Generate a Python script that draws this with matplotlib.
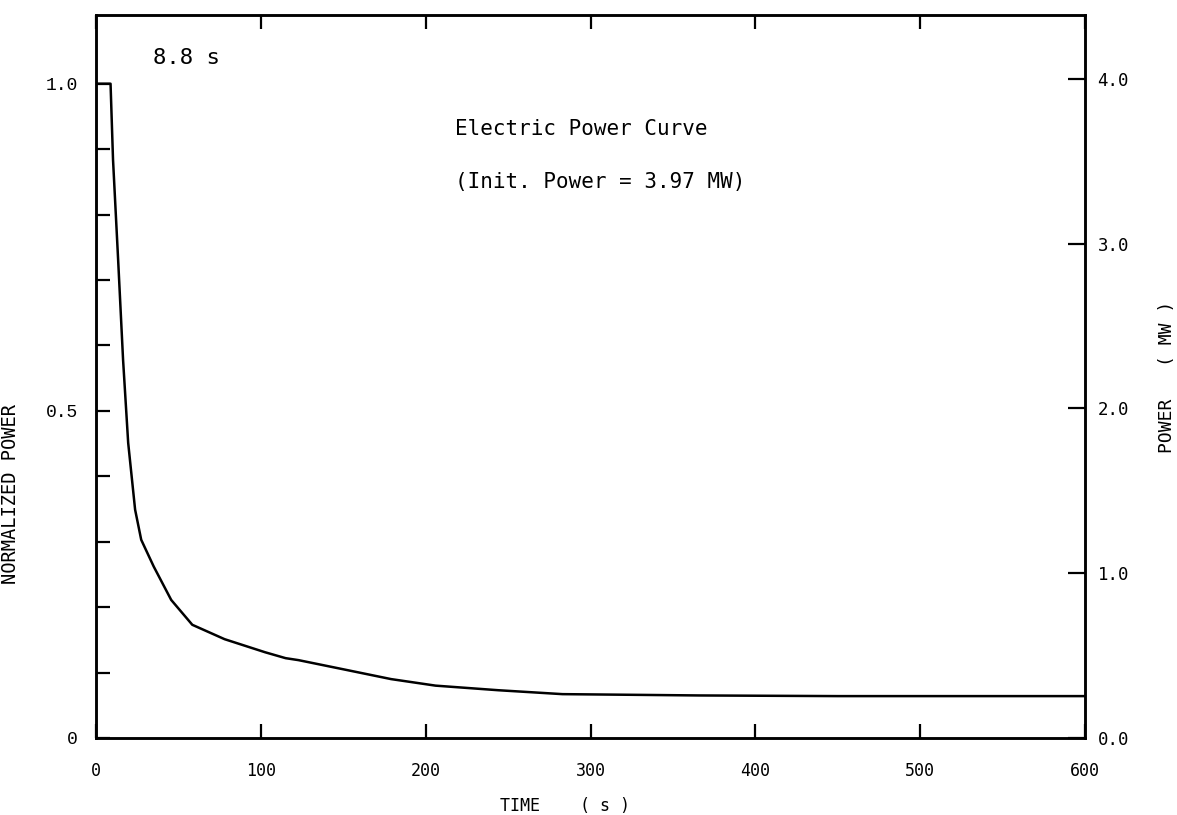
#!/usr/bin/env python3
"""Electric power curve after trip: normalized power vs time, with MW on a twin axis."""

import matplotlib
matplotlib.use("Agg")
import matplotlib.pyplot as plt
import numpy as np

# ── Data ─────────────────────────────────────────────────────────────────────
time_s = [0.0, 8.8, 10.3, 13.4, 16.4, 19.5, 23.7, 27.4, 29.8, 35.0, 45.6,
          58.4, 78.0, 102.6, 115.0, 122.8, 150.0, 179.0, 206.0, 244.0,
          283.0, 325.0, 366.0, 450.0, 600.0]
norm_power = [1.0, 1.0, 0.884, 0.731, 0.578, 0.451, 0.349, 0.303, 0.290,
              0.262, 0.211, 0.173, 0.151, 0.131, 0.122, 0.119, 0.105,
              0.090, 0.080, 0.073, 0.067, 0.066, 0.065, 0.064, 0.064]
init_power_mw = 3.97

x_ticks = [0, 100, 200, 300, 400, 500, 600]
left_ticks = np.round(np.arange(0, 1.01, 0.1), 1)
left_labels = {0.0: "0", 0.5: "0.5", 1.0: "1.0"}
right_ticks = [0.0, 1.0, 2.0, 3.0, 4.0]

# ── Style ────────────────────────────────────────────────────────────────────
plt.rcParams.update({
    "font.family": "DejaVu Sans Mono",
    "font.size": 12,
    "axes.linewidth": 1.8,
})

fig = plt.figure(figsize=(11.77, 8.15), dpi=100)
ax = fig.add_axes([0.0816, 0.0945, 0.8402, 0.8871])

ax.plot(time_s, norm_power, color="black", linewidth=1.8)
ax.set_xlim(0, 600)
ax.set_ylim(0, 1.105)

ax.set_xticks(x_ticks)
ax.set_xticklabels([str(t) for t in x_ticks], fontsize=12)
ax.set_yticks(left_ticks)
ax.set_yticklabels([left_labels.get(float(v), "") for v in left_ticks],
                   fontsize=13, family="Liberation Mono")
ax.tick_params(axis="x", direction="in", length=10, width=1.6, pad=17,
               top=True)
ax.tick_params(axis="y", direction="in", length=10, width=1.6, pad=13)

ax.set_xlabel("TIME    ( s )", fontsize=12)
ax.xaxis.set_label_coords(0.474, -0.082)
ax.set_ylabel("NORMALIZED POWER", fontsize=13.5)
ax.yaxis.set_label_coords(-0.077, 0.337)

# right axis in MW, same curve scaled by the initial power
ax2 = ax.twinx()
ax2.set_ylim(0, 1.105 * init_power_mw)
ax2.set_yticks(right_ticks)
ax2.set_yticklabels([f"{v:.1f}" for v in right_ticks], fontsize=12.5)
ax2.tick_params(axis="y", direction="in", length=12, width=1.6, pad=9)
ax2.set_ylabel("POWER   ( MW )", fontsize=13)
ax2.yaxis.set_label_coords(1.074, 0.50)

ax.text(34.7, 1.04, "8.8 s", fontsize=16, va="center")
ax.text(218, 0.93, "Electric Power Curve", fontsize=15, va="center")
ax.text(218, 0.85, f"(Init. Power = {init_power_mw} MW)", fontsize=15,
        va="center")

fig.savefig("out.png", dpi=100)
